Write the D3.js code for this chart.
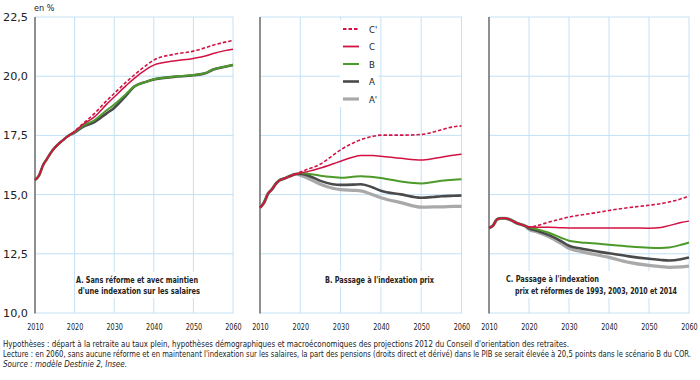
<!DOCTYPE html>
<html><head><meta charset="utf-8">
<script src="https://cdn.jsdelivr.net/npm/d3@7"></script>
<style>
body{margin:0;background:#fff;}
svg{display:block;}
text{font-family:"Liberation Sans Narrow","DejaVu Sans Condensed","Arial Narrow","Liberation Sans",sans-serif;fill:#222;}
</style></head>
<body><svg id="c" width="700" height="380"></svg>
<script>
// ---------- DATA ----------
const earlyYears = [2010,2011,2012,2013,2014,2015,2016,2017,2018,2019];
const lateYears  = [2020,2022,2025,2028,2030,2033,2035,2038,2040,2045,2050,2053,2055,2058,2060];
const yTicks = [10,12.5,15,17.5,20,22.5];
const xTicks = [2010,2020,2030,2040,2050,2060];
const seriesNames = ["C'","C","B","A","A'"];

// Panel A (2010-2019 common part)
const earlyA = [15.62,15.8,16.23,16.5,16.77,16.98,17.15,17.29,17.43,17.54];
const A_Cp = [17.68,17.98,18.42,18.95,19.27,19.75,20.04,20.45,20.68,20.92,21.06,21.2,21.31,21.44,21.51];
const A_C  = [17.66,17.95,18.28,18.8,19.12,19.6,19.9,20.28,20.47,20.64,20.75,20.85,20.96,21.08,21.14];
const A_B  = [17.64,17.9,18.14,18.55,18.8,19.25,19.56,19.76,19.87,19.98,20.05,20.13,20.29,20.4,20.48];
const A_A  = [17.62,17.85,18.06,18.42,18.66,19.18,19.55,19.76,19.86,19.97,20.04,20.12,20.28,20.4,20.47];

// Panel B
const earlyB = [14.45,14.66,15.04,15.23,15.47,15.62,15.68,15.75,15.82,15.87];
const B_Cp = [15.95,16.08,16.29,16.65,16.89,17.17,17.32,17.46,17.51,17.51,17.54,17.64,17.74,17.86,17.9];
const B_C  = [15.91,15.98,16.12,16.29,16.41,16.58,16.65,16.65,16.62,16.53,16.46,16.52,16.58,16.66,16.7];
const B_B  = [15.91,15.88,15.8,15.74,15.71,15.75,15.78,15.74,15.7,15.55,15.47,15.53,15.58,15.63,15.65];
const B_A  = [15.87,15.8,15.58,15.44,15.41,15.42,15.44,15.3,15.16,15.01,14.87,14.9,14.93,14.95,14.96];
const B_Ap = [15.82,15.68,15.44,15.27,15.21,15.18,15.16,14.99,14.87,14.66,14.47,14.48,14.48,14.5,14.5];

// Panel C
const earlyC = [13.6,13.69,13.95,14.0,14.0,13.96,13.88,13.79,13.74,13.68];
const C_Cp = [13.62,13.69,13.84,13.97,14.05,14.14,14.19,14.27,14.33,14.45,14.55,14.62,14.69,14.82,14.94];
const C_C  = [13.64,13.62,13.62,13.6,13.59,13.59,13.59,13.59,13.59,13.59,13.58,13.61,13.69,13.82,13.88];
const C_B  = [13.62,13.54,13.39,13.18,13.05,12.98,12.96,12.91,12.88,12.81,12.76,12.75,12.77,12.88,12.98];
const C_A  = [13.58,13.47,13.29,13.04,12.84,12.72,12.66,12.57,12.52,12.39,12.29,12.24,12.22,12.27,12.34];
const C_Ap = [13.53,13.42,13.22,12.94,12.73,12.59,12.52,12.42,12.35,12.14,12.01,11.96,11.93,11.95,11.98];

const titleA = ["A. Sans réforme et avec maintien", "d'une indexation sur  les salaires"];
const titleB = ["B. Passage à l'indexation prix"];
const titleC = ["C. Passage à l'indexation", "prix et réformes de 1993, 2003, 2010 et 2014"];
const notes = [
  "Hypothèses : départ à la retraite au taux plein, hypothèses démographiques et macroéconomiques des projections 2012 du Conseil d'orientation des retraites.",
  "Lecture : en 2060, sans aucune réforme et en maintenant l'indexation sur les salaires, la part des pensions (droits direct et dérivé) dans le PIB se serait élevée à 20,5 points dans le scénario B du COR.",
  "Source : modèle Destinie 2, Insee."
];

// ---------- STYLES ----------
const style = {
  "C'": {color:"#d11242", w:1.6, dash:"3.5,2"},
  "C":  {color:"#d11242", w:1.5, dash:null},
  "B":  {color:"#4c9a2a", w:2,   dash:null},
  "A":  {color:"#4a4a4a", w:2.6, dash:null},
  "A'": {color:"#a9a9a9", w:3.2, dash:null}
};
const gridColor = "#c3e1f4";

const svg = d3.select("#c");
const y = d3.scaleLinear().domain([10,22.5]).range([313,17]);
const years = earlyYears.concat(lateYears);

const panels = [
  {x: d3.scaleLinear().domain([2010,2060]).range([35,233]),
   series: {"C'":earlyA.concat(A_Cp),"C":earlyA.concat(A_C),"B":earlyA.concat(A_B),"A":earlyA.concat(A_A)},
   title: titleA, box:[75,272,127,26], tpos:[[76,282.5,122],[78,294,122]]},
  {x: d3.scaleLinear().domain([2010,2060]).range([260,461.5]),
   series: {"C'":earlyB.concat(B_Cp),"C":earlyB.concat(B_C),"B":earlyB.concat(B_B),"A":earlyB.concat(B_A),"A'":earlyB.concat(B_Ap)},
   title: titleB, box:[323,271,113,16], tpos:[[325,282.5,109]]},
  {x: d3.scaleLinear().domain([2010,2060]).range([489,689]),
   series: {"C'":earlyC.concat(C_Cp),"C":earlyC.concat(C_C),"B":earlyC.concat(C_B),"A":earlyC.concat(C_A),"A'":earlyC.concat(C_Ap)},
   title: titleC, box:[504,271,175,27], tpos:[[506,282,93],[515,294,162]]}
];

const fmt = d => d3.format(".1f")(d).replace(".", ",");

panels.forEach((p, pi) => {
  const g = svg.append("g");
  const [x0,x1] = p.x.range();
  // horizontal grid
  g.selectAll(".hg").data(yTicks).join("line")
    .attr("x1", x0).attr("x2", x1 + 0.5)
    .attr("y1", d => y(d)).attr("y2", d => y(d))
    .attr("stroke", gridColor).attr("stroke-width", 1);
  // vertical grid
  g.selectAll(".vg").data(xTicks.slice(1)).join("line")
    .attr("x1", d => p.x(d)).attr("x2", d => p.x(d))
    .attr("y1", y(22.5)).attr("y2", y(10))
    .attr("stroke", gridColor).attr("stroke-width", 1);
  // y axis line
  g.append("line").attr("x1", x0).attr("x2", x0).attr("y1", y(22.5)).attr("y2", y(10) + 0.5)
    .attr("stroke", "#6a6a6a").attr("stroke-width", 1.5);
  // x axis labels
  const ax = g.append("g").attr("transform", `translate(0,${y(10)})`)
    .call(d3.axisBottom(p.x).tickValues(xTicks).tickFormat(d3.format("d")).tickSize(0));
  ax.select(".domain").remove();
  ax.selectAll("text").attr("y", 17).attr("dy", 0)
    .attr("font-size", 9.5).attr("fill", "#222")
    .attr("textLength", 16.5).attr("lengthAdjust", "spacingAndGlyphs")
    .style("font-family", null);
  ax.attr("font-family", null);
  // title box
  g.append("rect").attr("x", p.box[0]).attr("y", p.box[1]).attr("width", p.box[2]).attr("height", p.box[3]).attr("fill", "#fff");
  // lines
  const line = d3.line().x((d,i) => p.x(years[i])).y(d => y(d)).curve(d3.curveMonotoneX);
  ["A'","A","B","C","C'"].forEach(k => {
    if (!p.series[k]) return;
    const s = style[k];
    g.append("path").datum(p.series[k]).attr("d", line)
      .attr("fill", "none").attr("stroke", s.color).attr("stroke-width", s.w)
      .attr("stroke-dasharray", s.dash).attr("stroke-linejoin", "round");
  });
  // title
  p.title.forEach((t, i) => {
    g.append("text").attr("x", p.tpos[i][0]).attr("y", p.tpos[i][1])
      .attr("font-size", 9.5).attr("font-weight", "bold")
      .attr("textLength", p.tpos[i][2]).attr("lengthAdjust", "spacingAndGlyphs")
      .text(t);
  });
});

// Y axis labels (panel A only)
const yax = svg.append("g").attr("transform", "translate(35,0)")
  .call(d3.axisLeft(y).tickValues(yTicks).tickFormat(fmt).tickSize(0));
yax.select(".domain").remove();
yax.attr("font-family", null);
yax.selectAll("text").attr("x", -7).attr("dy", "0.35em").attr("font-size", 10)
  .attr("fill", "#222").attr("textLength", 25).attr("lengthAdjust", "spacingAndGlyphs");

svg.append("text").attr("x", 34).attr("y", 11).attr("font-size", 9).text("en %");

// Legend
const lg = svg.append("g");
lg.append("rect").attr("x", 340).attr("y", 20).attr("width", 38).attr("height", 87).attr("fill", "#fff");
const legY = d3.scalePoint().domain(seriesNames).range([29, 99]);
seriesNames.forEach(k => {
  const s = style[k];
  lg.append("line").attr("x1", 343).attr("x2", 359).attr("y1", legY(k)).attr("y2", legY(k))
    .attr("stroke", s.color).attr("stroke-width", k === "C'" || k === "C" ? 1.8 : s.w)
    .attr("stroke-dasharray", s.dash);
  lg.append("text").attr("x", 369).attr("y", legY(k) + 3.5).attr("font-size", 9.5).text(k);
});

// Notes
const nl = [566, 688, 124];
notes.forEach((t, i) => {
  svg.append("text").attr("x", 3).attr("y", 347 + i * 9.8)
    .attr("font-size", 8.5).attr("font-style", i === 2 ? "italic" : null)
    .attr("textLength", nl[i]).attr("lengthAdjust", "spacingAndGlyphs")
    .text(t);
});
</script></body></html>
